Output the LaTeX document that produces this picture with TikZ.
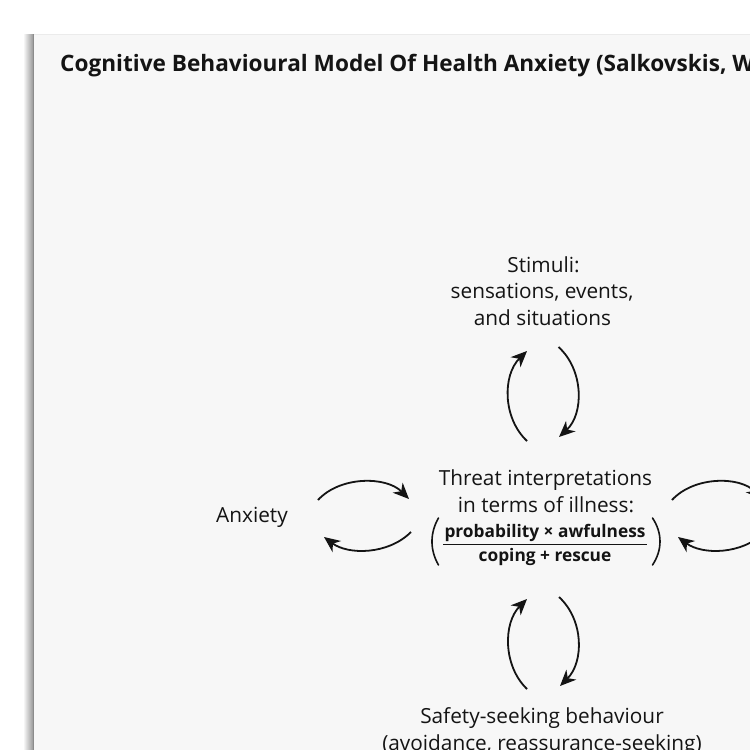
\documentclass[tikz,border=0pt]{standalone}
\usepackage{fontspec}
\setmainfont{Open Sans}
\usetikzlibrary{arrows.meta}
\definecolor{pagebg}{HTML}{F7F7F7}
\definecolor{ink}{HTML}{141414}
\begin{document}
\begin{tikzpicture}[x=1pt,y=-1pt,
  lbl/.style={font=\fontsize{20.8}{26}\selectfont, inner sep=0pt, text=ink, anchor=base},
  fracl/.style={font=\fontsize{17.3}{20}\selectfont\bfseries, inner sep=0pt, text=ink, anchor=base},
  ttl/.style={font=\fontsize{22.6}{26}\selectfont\bfseries, inner sep=0pt, text=ink, anchor=base west},
  loop/.style={line width=1.8pt, draw=ink, -{Stealth[length=16pt,width=14pt,inset=5pt]}},
  paren/.style={line width=1.6pt, draw=ink, line cap=round},
]
\useasboundingbox (0,0) rectangle (750,750);
\clip (0,0) rectangle (750,750);
\fill[white] (0,0) rectangle (750,750);
\fill[pagebg] (34,34) rectangle (760,760);
\shade[left color=white, right color=black!40] (23,34) rectangle (33,760);
\draw[black!45, line width=1pt] (33.5,34) -- (33.5,760);
\draw[black!8, line width=0.6pt] (34,34.3) -- (760,34.3);

% title
\node[ttl] (title) at (60,71) {Cognitive Behavioural Model Of Health Anxiety (Salkovskis, W};

% stimuli
\node[lbl] (stimA) at (543.5,272) {Stimuli:};
\node[lbl] (stimB) at (542,298.5) {sensations, events,};
\node[lbl] (stimC) at (542.5,325) {and situations};

% centre
\node[lbl] (thrA) at (545.5,485) {Threat interpretations};
\node[lbl] (thrB) at (546,512.7) {in terms of illness:};
\node[fracl] (num) at (545,537) {probability × awfulness};
\node[fracl] (den) at (545,561) {coping + rescue};
\coordinate (rl) at (443,544.5);
\coordinate (rr) at (647,544.5);
\draw[line width=1pt, draw=ink] (rl) -- (rr);
\coordinate (lp1) at (438.5,518);
\coordinate (lp2) at (438.5,565);
\coordinate (rp1) at (652.5,518);
\coordinate (rp2) at (652.5,565);
\draw[paren] (lp1) .. controls (429.8,533) and (429.8,550) .. (lp2);
\draw[paren] (rp1) .. controls (662.5,533) and (662.5,550) .. (rp2);

% anxiety
\node[lbl] (anx) at (252,522) {Anxiety};

% safety
\node[lbl] (safA) at (542,723) {Safety-seeking behaviour};
\node[lbl] (safB) at (542,750) {(avoidance, reassurance-seeking)};

% top loop
\coordinate (t1) at (527,441);
\coordinate (t2) at (527,351);
\coordinate (t3) at (558.5,347);
\coordinate (t4) at (559,437);
\draw[loop] (t1) .. controls (502.5,418) and (502.5,375) .. (t2);
\draw[loop] (t3) .. controls (584,370) and (584,414) .. (t4);

% left loop
\coordinate (l1) at (318,500);
\coordinate (l2) at (409,499);
\coordinate (l3) at (411,532);
\coordinate (l4) at (324,537);
\draw[loop] (l1) .. controls (340,476) and (386,476) .. (l2);
\draw[loop] (l3) .. controls (388,555) and (348,555) .. (l4);

% right loop
\coordinate (r1) at (672,500);
\coordinate (r2) at (762,499);
\coordinate (r3) at (765,532);
\coordinate (r4) at (678,537);
\draw[loop] (r1) .. controls (694,476) and (740,476) .. (r2);
\draw[loop] (r3) .. controls (742,555) and (702,555) .. (r4);

% bottom loop
\coordinate (b1) at (527,689);
\coordinate (b2) at (527,599);
\coordinate (b3) at (559,597);
\coordinate (b4) at (560,686);
\draw[loop] (b1) .. controls (503,666) and (503,623) .. (b2);
\draw[loop] (b3) .. controls (584,620) and (584,662) .. (b4);
\end{tikzpicture}
\end{document}
